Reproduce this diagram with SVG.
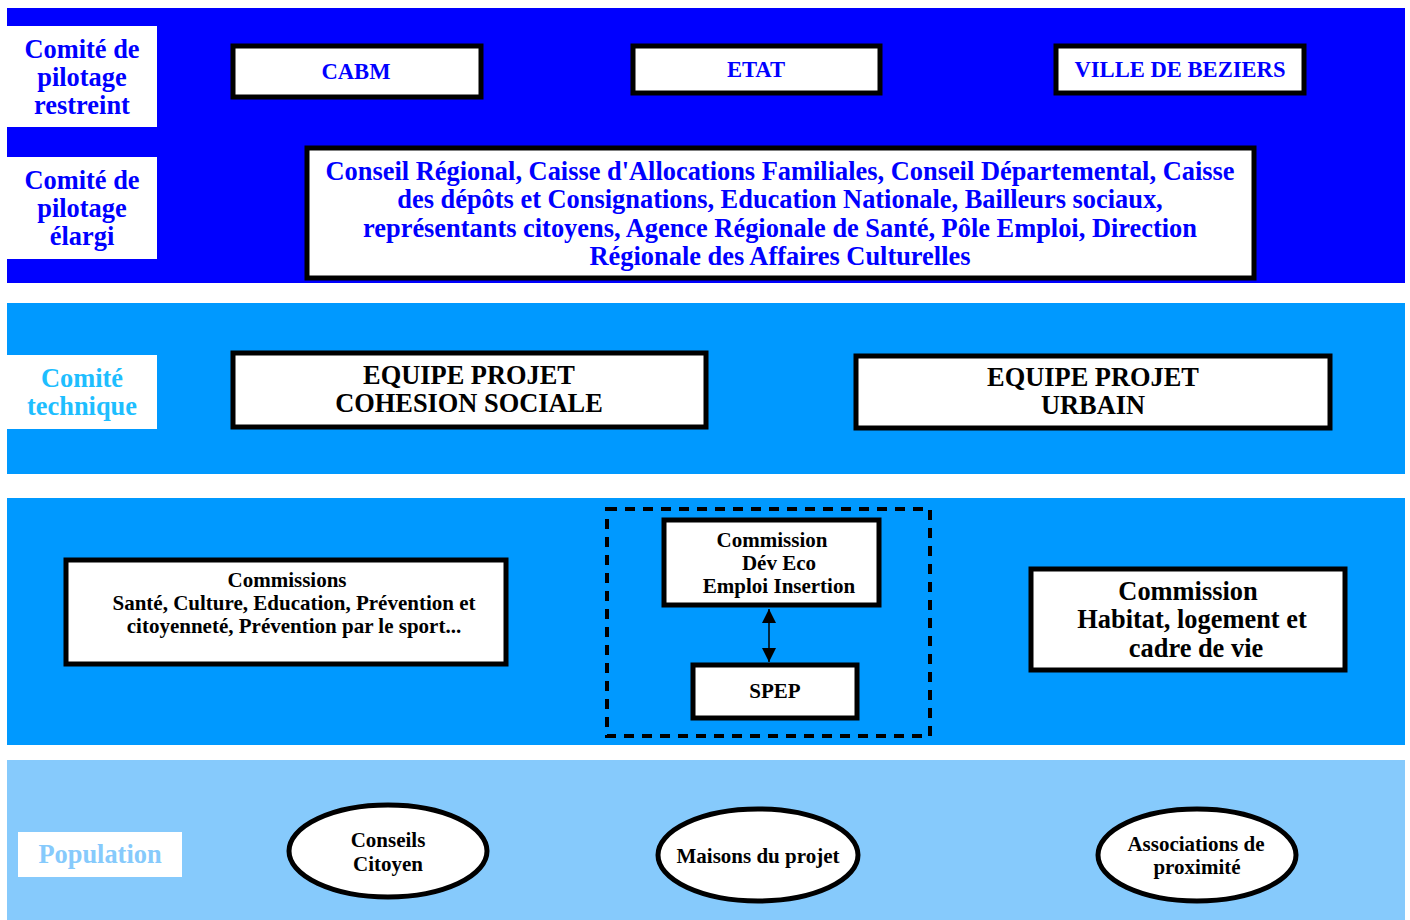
<svg xmlns="http://www.w3.org/2000/svg" width="1410" height="920" viewBox="0 0 1410 920">
<defs>
<style>
text{font-family:"Liberation Serif","Times New Roman",serif;font-weight:bold;text-anchor:middle}
.box{fill:#fff;stroke:#000;stroke-width:5}
.lbl{fill:#fff}
.bl{fill:#0000FF}
.k{fill:#000}
.L{font-size:26.4px}
.M{font-size:22.6px}
.S{font-size:21px}
</style>
<marker id="ah" viewBox="0 0 10 10" refX="10" refY="5" markerWidth="14" markerHeight="14" markerUnits="userSpaceOnUse" orient="auto-start-reverse"><path d="M0,0 L10,5 L0,10 z" fill="#000"/></marker>
</defs>
<rect width="1410" height="920" fill="#fff"/>
<g id="bands">
<rect x="7" y="8" width="1398" height="133" fill="#0000FF"/>
<rect x="7" y="141" width="1398" height="142" fill="#0000FF"/>
<rect x="7" y="303" width="1398" height="171" fill="#0099FF"/>
<rect x="7" y="498" width="1398" height="247" fill="#0099FF"/>
<rect x="7" y="760" width="1398" height="160" fill="#86CAFC"/>
</g>
<g id="label-restreint"><rect class="lbl" x="7" y="26" width="150" height="101"/>
<text x="82" y="58" class="L bl">Comité de</text><text x="82" y="86" class="L bl">pilotage</text><text x="82" y="114" class="L bl">restreint</text></g>
<g id="label-elargi"><rect class="lbl" x="7" y="157" width="150" height="102"/>
<text x="82" y="189" class="L bl">Comité de</text><text x="82" y="217" class="L bl">pilotage</text><text x="82" y="245" class="L bl">élargi</text></g>
<g id="label-technique"><rect class="lbl" x="7" y="355" width="150" height="74"/>
<text x="82" y="387" class="L" fill="#1EBEFF">Comité</text><text x="82" y="415" class="L" fill="#1EBEFF">technique</text></g>
<g id="label-population"><rect class="lbl" x="18" y="832" width="164" height="45"/>
<text x="100" y="863" class="L" fill="#86CAFC">Population</text></g>
<g id="cabm"><rect class="box" x="233" y="46" width="248" height="51"/><text x="356" y="79" class="M bl">CABM</text></g>
<g id="etat"><rect class="box" x="633" y="46" width="247" height="47"/><text x="756" y="77" class="M bl">ETAT</text></g>
<g id="ville"><rect class="box" x="1056" y="46" width="248" height="47"/><text x="1180" y="77" class="M bl">VILLE DE BEZIERS</text></g>
<g id="partenaires"><rect class="box" x="307" y="148" width="947" height="130"/>
<text x="780" y="180" class="L bl">Conseil Régional, Caisse d'Allocations Familiales, Conseil Départemental, Caisse</text>
<text x="780" y="208" class="L bl">des dépôts et Consignations, Education Nationale, Bailleurs sociaux,</text>
<text x="780" y="237" class="L bl">représentants citoyens, Agence Régionale de Santé, Pôle Emploi, Direction</text>
<text x="780" y="265" class="L bl">Régionale des Affaires Culturelles</text></g>
<g id="equipe-cohesion"><rect class="box" x="233" y="353" width="473" height="74"/>
<text x="469" y="384" class="L k">EQUIPE PROJET</text><text x="469" y="412" class="L k">COHESION SOCIALE</text></g>
<g id="equipe-urbain"><rect class="box" x="856" y="356" width="474" height="72"/>
<text x="1093" y="386" class="L k">EQUIPE PROJET</text><text x="1093" y="414" class="L k">URBAIN</text></g>
<g id="commissions"><rect class="box" x="66" y="560" width="440" height="104"/>
<text x="287" y="587" class="S k">Commissions</text>
<text x="294" y="610" class="S k">Santé, Culture, Education, Prévention et</text>
<text x="294" y="633" class="S k">citoyenneté, Prévention par le sport...</text></g>
<g id="groupe-emploi"><rect x="607" y="509" width="323" height="227" fill="none" stroke="#000" stroke-width="4" stroke-dasharray="10,8"/></g>
<g id="commission-deveco"><rect class="box" x="664" y="520" width="215" height="85"/>
<text x="772" y="547" class="S k">Commission</text><text x="779" y="570" class="S k">Dév Eco</text><text x="779" y="593" class="S k">Emploi Insertion</text></g>
<g id="spep"><rect class="box" x="693" y="665" width="164" height="53"/><text x="775" y="698" class="S k">SPEP</text></g>
<g id="commission-habitat"><rect class="box" x="1031" y="569" width="314" height="101"/>
<text x="1188" y="600" class="L k">Commission</text><text x="1192" y="628" class="L k">Habitat, logement et</text><text x="1196" y="657" class="L k">cadre de vie</text></g>
<g id="conseils"><ellipse cx="388" cy="851" rx="99" ry="46" fill="#fff" stroke="#000" stroke-width="5"/>
<text x="388" y="847" class="S k">Conseils</text><text x="388" y="871" class="S k">Citoyen</text></g>
<g id="maisons"><ellipse cx="758" cy="855" rx="100" ry="46" fill="#fff" stroke="#000" stroke-width="5"/>
<text x="758" y="863" class="S k">Maisons du projet</text></g>
<g id="associations"><ellipse cx="1197" cy="855" rx="99" ry="46" fill="#fff" stroke="#000" stroke-width="5"/>
<text x="1196" y="851" class="S k">Associations de</text><text x="1197" y="874" class="S k">proximité</text></g>
<g id="connectors">
<line x1="769" y1="609" x2="769" y2="662" stroke="#000" stroke-width="1.5" marker-start="url(#ah)" marker-end="url(#ah)"/>
</g>
</svg>
